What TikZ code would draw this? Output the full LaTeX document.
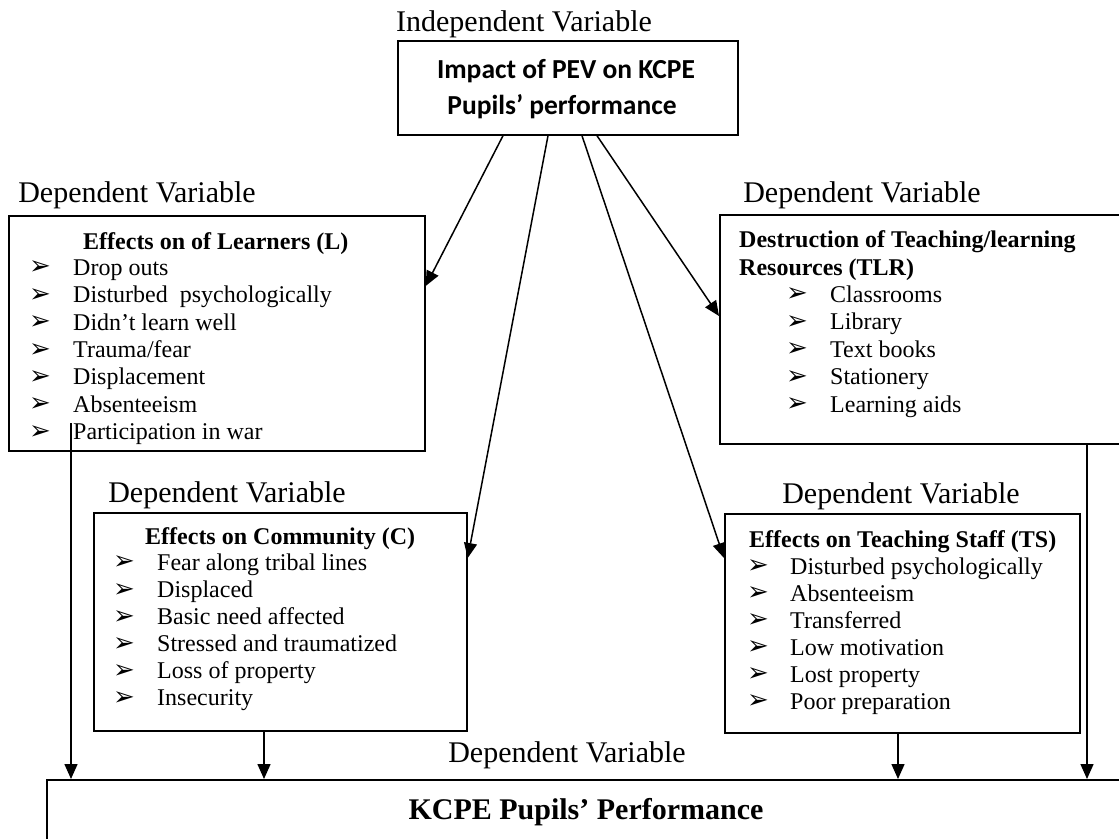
\documentclass[tikz,border=0pt]{standalone}
\usepackage{fontspec}
\setmainfont{Liberation Serif}
\newfontfamily\calib{Carlito}
\newfontfamily\dejavu{DejaVu Sans}
\usetikzlibrary{arrows.meta}

\begin{document}
\begin{tikzpicture}[x=1pt,y=-1pt,
  dvbox/.style={draw, line width=1.7pt, inner sep=0pt, anchor=north west, fill=none},
  dvarr/.style={line width=1.5pt, -{Triangle[length=15pt,width=13pt]}},
  dvlbl/.style={font=\fontsize{30}{34}\selectfont, inner sep=0pt, anchor=mid, yshift=-7pt},
  dvhead/.style={font=\fontsize{24}{28}\selectfont\bfseries, inner sep=0pt, anchor=mid west, yshift=-5pt},
  dvitem/.style={font=\fontsize{24}{28}\selectfont, inner sep=0pt, anchor=mid west, yshift=-5pt},
  dvbul/.style={font=\dejavu\fontsize{26}{28}\selectfont, inner sep=0pt, anchor=west, yshift=-3pt},
]
\useasboundingbox[fill=white] (0,0) rectangle (1119,838);
\clip (0,0) rectangle (1119,838);

% boxes
\node[dvbox, minimum width=340pt, minimum height=94pt] (T) at (397,40) {};
\node[dvbox, minimum width=416pt, minimum height=235pt] (L) at (8,215) {};
\node[dvbox, minimum width=420pt, minimum height=229pt] (R) at (719,214) {};
\node[dvbox, minimum width=373pt, minimum height=218pt] (C) at (93,512) {};
\node[dvbox, minimum width=355pt, minimum height=219pt] (S) at (724,513) {};
\node[dvbox, minimum width=1100pt, minimum height=90pt] (P) at (46,779) {};

% labels
\node[dvlbl] (IV) at (524,22) {Independent Variable};
\node[dvlbl] (DL) at (137,193) {Dependent Variable};
\node[dvlbl] (DR) at (862,193) {Dependent Variable};
\node[dvlbl] (DC) at (227,493) {Dependent Variable};
\node[dvlbl] (DS) at (901,494) {Dependent Variable};
\node[dvlbl] (DP) at (567,753) {Dependent Variable};

% top box text
\node[font=\calib\bfseries\fontsize{27.5}{35}\selectfont, anchor=base, inner sep=0pt] (T1) at (566,78) {Impact of PEV on KCPE};
\node[font=\calib\bfseries\fontsize{27.5}{35}\selectfont, anchor=base, inner sep=0pt] (T2) at (562,114) {Pupils’ performance};

% bottom box text
\node[font=\fontsize{30}{34}\selectfont\bfseries, anchor=base, inner sep=0pt] (PT) at (586,819) {KCPE Pupils’ Performance};

% headings
\node[dvhead] (LH) at (83,242) {Effects on of Learners (L)};
\node[dvhead] (RH1) at (739,240) {Destruction of Teaching/learning};
\node[dvhead] (RH2) at (739,268) {Resources (TLR)};
\node[dvhead] (CH) at (145,537) {Effects on Community (C)};
\node[dvhead] (SH) at (749,540) {Effects on Teaching Staff (TS)};

% items
\foreach \t [count=\i] in {Drop outs, Disturbed\ \ psychologically, Didn’t learn well, Trauma/fear, Displacement, Absenteeism, Participation in war} {
  \node[dvbul] (Lb\i) at (29,{265+27.4*(\i-1)}) {➢};
  \node[dvitem] (Lt\i) at (73,{268+27.4*(\i-1)}) {\t};
}
\foreach \t [count=\i] in {Classrooms, Library, Text books, Stationery, Learning aids} {
  \node[dvbul] (Rb\i) at (786,{292+27.5*(\i-1)}) {➢};
  \node[dvitem] (Rt\i) at (830,{295+27.5*(\i-1)}) {\t};
}
\foreach \t [count=\i] in {Fear along tribal lines, Displaced, Basic need affected, Stressed and traumatized, Loss of property, Insecurity} {
  \node[dvbul] (Cb\i) at (113,{560+27.1*(\i-1)}) {➢};
  \node[dvitem] (Ct\i) at (157,{563+27.1*(\i-1)}) {\t};
}
\foreach \t [count=\i] in {Disturbed psychologically, Absenteeism, Transferred, Low motivation, Lost property, Poor preparation} {
  \node[dvbul] (Sb\i) at (747,{564+27*(\i-1)}) {➢};
  \node[dvitem] (St\i) at (790,{567+27*(\i-1)}) {\t};
}

% connector helper coordinates
\coordinate (x1) at (503,0);
\coordinate (x2) at (548,0);
\coordinate (x3) at (582,0);
\coordinate (x4) at (597,0);
\coordinate (y1) at (0,286);
\coordinate (y2) at (0,558);
\coordinate (y3) at (0,558);
\coordinate (y4) at (0,316);
\coordinate (v1) at (71,423);
\coordinate (v2) at (264,0);
\coordinate (v3) at (898,0);
\coordinate (v4) at (1087,0);

% arrows from the independent variable
\draw[dvarr] (x1 |- T.south) -- (L.east |- y1);
\draw[dvarr] (x2 |- T.south) -- (C.east |- y2);
\draw[dvarr] (x3 |- T.south) -- (S.west |- y3);
\draw[dvarr] (x4 |- T.south) -- (R.west |- y4);

% arrows into the bottom box
\draw[dvarr] (v1) -- (v1 |- P.north);
\draw[dvarr] (v2 |- C.south) -- (v2 |- P.north);
\draw[dvarr] (v3 |- S.south) -- (v3 |- P.north);
\draw[dvarr] (v4 |- R.south) -- (v4 |- P.north);
\end{tikzpicture}
\end{document}
